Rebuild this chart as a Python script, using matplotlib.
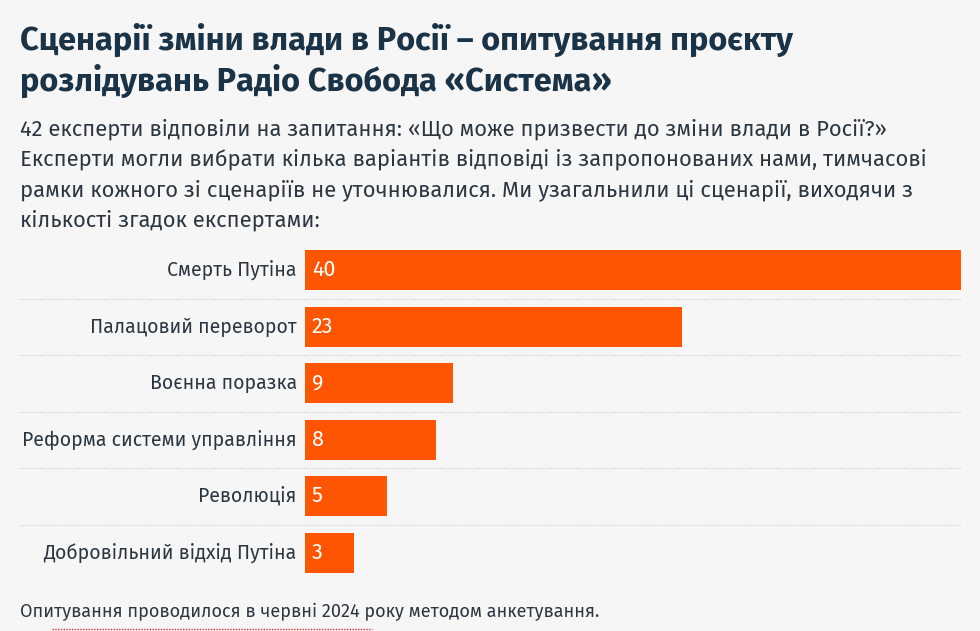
import matplotlib.pyplot as plt

plt.rcParams['font.family'] = ['Fira Sans', 'Noto Sans', 'DejaVu Sans']

# data
categories = ["Смерть Путіна", "Палацовий переворот", "Воєнна поразка",
              "Реформа системи управління", "Революція", "Добровільний відхід Путіна"]
values = [40, 23, 9, 8, 5, 3]

title = "Сценарії зміни влади в Росії – опитування проєкту\nрозлідувань Радіо Свобода «Система»"
subtitle = ("42 експерти відповіли на запитання: «Що може призвести до зміни влади в Росії?»\n"
            "Експерти могли вибрати кілька варіантів відповіді із запропонованих нами, тимчасові\n"
            "рамки кожного зі сценаріїв не уточнювалися. Ми узагальнили ці сценарії, виходячи з\n"
            "кількості згадок експертами:")
footer = "Опитування проводилося в червні 2024 року методом анкетування."

bg = "#f6f6f6"
orange = "#ff5500"
navy = "#1b3346"
textc = "#2b3640"

W, H = 980, 631
fig = plt.figure(figsize=(W / 100, H / 100), dpi=100, facecolor=bg)

# axes placed in pixel terms
x0, x1 = 305, 961
ytop, ybot = 242, 581
ax = fig.add_axes([x0 / W, 1 - ybot / H, (x1 - x0) / W, (ybot - ytop) / H])
ax.set_facecolor(bg)
pos = list(range(len(values)))
ax.barh(pos, values, height=0.71, color=orange, zorder=2)
ax.set_xlim(0, 40)
ax.set_ylim(len(values) - 0.5, -0.5)
for s in ax.spines.values():
    s.set_visible(False)
ax.set_xticks([])
ax.set_yticks([])

for i, (c, v) in enumerate(zip(categories, values)):
    ax.text(-0.5, i, c, ha="right", va="center", fontsize=14, color=textc)
    ax.text(0.42, i, str(v), ha="left", va="center", fontsize=15.5, color="white", zorder=3)

xmin_frac = (20 - x0) / (x1 - x0)
for i in range(len(values) - 1):
    ax.axhline(i + 0.5, xmin=xmin_frac, xmax=1.0, color="#c8c8c8", lw=0.8,
               ls=(0, (1, 1.5)), clip_on=False, zorder=1)

fig.text(20 / W, 1 - 23 / H, title, ha="left", va="top", fontsize=23.4, fontweight="bold",
         color=navy, linespacing=1.25)
fig.text(20 / W, 1 - 119 / H, subtitle, ha="left", va="top", fontsize=15.8, color=textc,
         linespacing=1.5)
fig.text(20 / W, 1 - 612 / H, footer, ha="left", va="center", fontsize=13, color=textc)
fig.add_artist(plt.Line2D([52 / W, 372 / W], [1 - 629 / H, 1 - 629 / H], color="#e03030",
                          lw=1, ls=(0, (1, 1))))

fig.savefig("out.png", dpi=100, facecolor=bg)
